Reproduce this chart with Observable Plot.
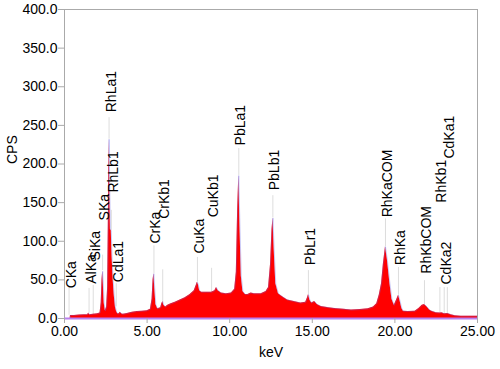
<!DOCTYPE html>
<html><head><meta charset="utf-8">
<script src="https://cdn.jsdelivr.net/npm/d3@7"></script>
<script src="https://cdn.jsdelivr.net/npm/@observablehq/plot@0.6"></script>
<style>body{margin:0;background:#fff}</style>
</head><body><div id="chart"></div>
<script>
// spectrum (keV, CPS)
const energy = [0.00,0.34,0.36,0.6,0.9,1.2,1.40,1.46,1.52,1.74,2.0,2.15,2.22,2.27,2.31,2.35,2.40,2.47,2.55,2.61,2.65,2.70,2.74,2.78,2.83,2.88,2.95,3.01,3.08,3.15,3.22,3.30,3.38,3.45,3.55,3.8,4.1,4.4,4.7,5.0,5.2,5.30,5.36,5.41,5.46,5.53,5.64,5.82,5.89,5.95,6.01,6.12,6.25,6.45,6.7,7.0,7.3,7.6,7.85,7.96,8.04,8.10,8.18,8.3,8.6,8.9,9.1,9.2,9.3,9.5,9.8,10.1,10.3,10.40,10.48,10.55,10.62,10.70,10.8,10.95,11.1,11.29,11.5,11.9,12.2,12.35,12.47,12.56,12.62,12.69,12.79,12.95,13.2,13.5,13.9,14.3,14.6,14.71,14.77,14.85,14.96,15.14,15.3,15.54,16.0,16.35,16.9,17.37,17.9,18.38,18.7,18.9,19.05,19.19,19.30,19.43,19.55,19.70,19.82,19.96,20.10,20.22,20.32,20.42,20.51,20.8,21.22,21.45,21.65,21.79,21.95,22.1,22.23,22.5,22.74,22.84,23.0,23.2,23.4,23.65,24.0,24.5,25.0];
const cps    = [0,0,4,4,4.5,5,5,7,5,5.5,6,7,20,50,61,45,20,10,15,40,120,232,170,115,114,80,49,30,15,9,6,6,8,6,5.5,6.5,8,9,9.5,10,12,25,50,58,40,18,12.5,14,19,22,17,15,17,19,21,24,27,31,36,42,47,44,36,34,34,34,36,40,36,33,32,33,38,60,140,185,120,55,35,31,31,33,32,32,35,40,70,115,130,90,45,32,28,24,22,20,21,27,31,24,20,22,18,15.5,14,13,12,11,11.5,12.5,15,19,30,45,70,93,75,45,25,17,24,30,22,13,9.5,9,9.5,13,17,18,15,11,9.5,7.5,7,7.5,6,6.5,5,3.5,3,3,3];

// peak markers
const lineNames  = ["CKa","AlKa","SiKa","SKa","RhLa1","RhLb1","CdLa1","CrKa","CrKb1","CuKa","CuKb1","PbLa1","PbLb1","PbLr1","RhKaCOM","RhKa","RhKbCOM","RhKb1","CdKa2","CdKa1"];
const lineEnergy = [0.277,1.486,1.740,2.307,2.697,2.834,3.133,5.414,5.946,8.047,8.904,10.551,12.613,14.764,19.43,20.216,21.79,22.724,22.984,23.174];
const lineLow    = [4,7,5,62,232,114,15,58,22,47,34,185,130,31,93,30,18,7,6,6.5];
const lineHigh   = [40,39,43,82,260,140,45,94,63,79,65,220,159,62,129,66,49,40,40,40];
const labelBase  = [39,45,75,127,267,163,47,97,129,84,131,224,166,69,131,69,58,150,44,207];

const yTicks = [0,50,100,150,200,250,300,350,400];
const xTicks = [0,5,10,15,20,25];

const spectrum = energy.map((e,i)=>({e, c: cps[i]}));
const lines = lineNames.map((n,i)=>({n, e: lineEnergy[i], lo: lineLow[i], hi: lineHigh[i], b: labelBase[i]}));

const chart = Plot.plot({
  width: 500, height: 369,
  marginLeft: 64, marginRight: 23, marginTop: 9, marginBottom: 51,
  style: {fontFamily: "'Liberation Sans', Arial, sans-serif", fontSize: "14px", color: "black", background: "white"},
  x: {domain: [0, 25]},
  y: {domain: [0, 400]},
  marks: [
    Plot.frame({stroke: "#aaaaaa"}),
    Plot.ruleX(lines, {x: "e", y1: "lo", y2: "hi", stroke: "#dddddd", strokeWidth: 1}),
    Plot.areaY(spectrum, {x: "e", y: "c", fill: "#ff0000", curve: "linear"}),
    Plot.lineY(spectrum, {x: "e", y: "c", stroke: "#6a6ae8", strokeWidth: 0.5, strokeOpacity: 0.7, curve: "linear"}),
    Plot.ruleY([0], {stroke: "#b97ff0", strokeWidth: 2}),
    Plot.axisY({ticks: yTicks, tickFormat: d3.format(".1f"), tickSize: 6, tickPadding: 1, stroke: "#aaaaaa", fill: "black", fontSize: 14, label: null}),
    Plot.axisX({ticks: xTicks, tickFormat: d3.format(".2f"), tickSize: 5, tickPadding: 3, stroke: "#aaaaaa", fill: "black", fontSize: 14, label: null}),
    Plot.text(lines, {x: "e", y: "b", text: "n", rotate: -90, textAnchor: "start", dx: 2, fontSize: 14, fill: "black"}),
    Plot.text(["CPS"], {frameAnchor: "left", rotate: -90, dx: -52, fontSize: 14, fill: "black"}),
    Plot.text(["keV"], {frameAnchor: "bottom", dy: 38, fontSize: 14, fill: "black"})
  ]
});
document.getElementById("chart").appendChild(chart);
</script>
</body></html>
